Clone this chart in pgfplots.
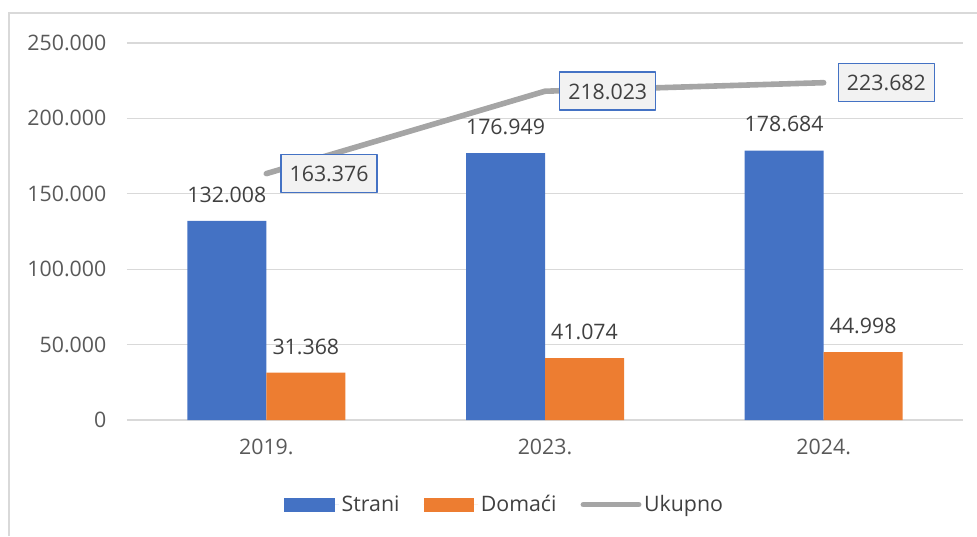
\documentclass[border=0pt]{standalone}
\usepackage{pgfplots}
\pgfplotsset{compat=1.18}
\usepackage{fontspec}
\setmainfont{Open Sans}
\definecolor{cblue}{HTML}{4472C4}
\definecolor{corange}{HTML}{ED7D31}
\definecolor{cgray}{HTML}{A5A5A5}
\definecolor{cgrid}{HTML}{D9D9D9}
\definecolor{ctext}{HTML}{404040}
\definecolor{ctick}{HTML}{595959}
\definecolor{cbox}{HTML}{F2F2F2}
\begin{document}
\begin{tikzpicture}
\useasboundingbox (-95.25pt,-87pt) rectangle (637.5pt,315pt);
\draw[cgrid, line width=1.1pt] (-88.5pt,-87pt) -- (-88.5pt,305.25pt) -- (637.5pt,305.25pt);
\begin{axis}[
  at={(0,0)}, anchor=south west,
  scale only axis, width=627pt, height=282.75pt,
  xmin=-0.5, xmax=2.5, ymin=0, ymax=250000,
  xtick={0,1,2}, xticklabels={2019.,2023.,2024.},
  ytick={0,50000,100000,150000,200000,250000},
  yticklabels={0,50.000,100.000,150.000,200.000,250.000},
  scaled y ticks=false,
  axis line style={draw=none},
  major tick length=0pt,
  ymajorgrids, grid style={cgrid, line width=0.9pt},
  tick label style={font=\fontsize{16}{19}\selectfont, text=ctick},
  xticklabel style={yshift=-11pt},
  yticklabel style={xshift=-12pt},
  clip=false,
  legend columns=3,
  legend style={draw=none, fill=none, at={(283.5pt,-63.5pt)}, anchor=center,
    font=\fontsize{16}{19}\selectfont, text=ctext,
    /tikz/every even column/.append style={column sep=16pt}},
  legend cell align=left,
]
\addplot[ybar, bar width=59.25pt, bar shift=-29.625pt, fill=cblue, draw=none,
  legend image code/.code={\fill[cblue] (0pt,-5.25pt) rectangle (38pt,5.25pt); \path (0pt,0pt) -- (41pt,0pt);},
  point meta=explicit symbolic, nodes near coords,
  nodes near coords style={font=\fontsize{16}{19}\selectfont, text=ctext, anchor=south, inner sep=0pt, yshift=13.5pt, xshift=-29.625pt}]
  coordinates {(0,132008) [132.008] (1,176949) [176.949] (2,178684) [178.684]};
\addlegendentry{Strani}
\addplot[ybar, bar width=59.25pt, bar shift=29.625pt, fill=corange, draw=none,
  legend image code/.code={\fill[corange] (0pt,-5.25pt) rectangle (38pt,5.25pt); \path (0pt,0pt) -- (41pt,0pt);},
  point meta=explicit symbolic, nodes near coords,
  nodes near coords style={font=\fontsize{16}{19}\selectfont, text=ctext, anchor=south, inner sep=0pt, yshift=13.5pt, xshift=29.625pt}]
  coordinates {(0,31368) [31.368] (1,41074) [41.074] (2,44998) [44.998]};
\addlegendentry{Domaći}
\addplot[cgray, line width=4.2pt, line cap=round, line join=round, mark=none, sharp plot,
  legend image code/.code={\draw[cgray, line width=4.2pt, line cap=round] (2pt,0pt) -- (39pt,0pt); \path (0pt,0pt) -- (41.5pt,0pt);},
  point meta=explicit symbolic, nodes near coords,
  nodes near coords style={font=\fontsize{16}{19}\selectfont, text=ctext, anchor=west, xshift=10.5pt,
    fill=cbox, draw=cblue, line width=1.1pt, minimum width=72pt, minimum height=28.5pt,
    inner sep=0pt, text height=11.8pt, text depth=0pt}]
  coordinates {(0,163376) [163.376] (1,218023) [218.023] (2,223682) [223.682]};
\addlegendentry{Ukupno}
\end{axis}
\end{tikzpicture}
\end{document}
